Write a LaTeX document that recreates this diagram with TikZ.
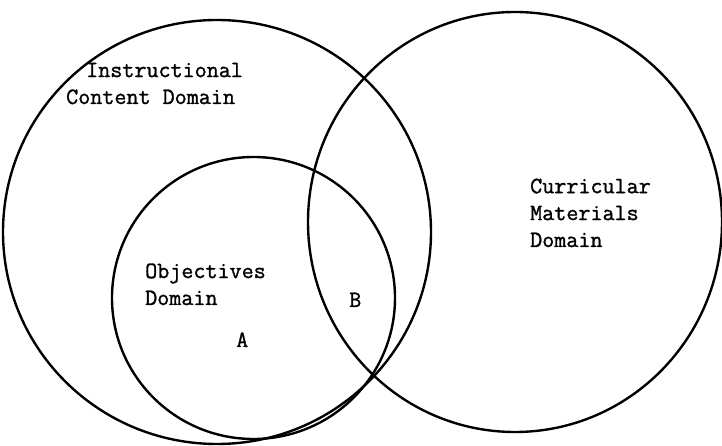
\documentclass[tikz,border=0pt]{standalone}
\usepackage{fontspec}
\newfontfamily\typewriter[FakeBold=1.2]{Latin Modern Mono}
\usepackage{tikz}

\tikzset{
  ring/.style={line width=2.4pt},
  lbl/.style={font=\typewriter\fontsize{23.5}{27}\selectfont, align=left, inner sep=0pt, anchor=base west}
}

\begin{document}
\begin{tikzpicture}[x=1bp,y=-1bp]
\useasboundingbox (0,0) rectangle (722,446);

% the three domains
\draw[ring] (217,232) ellipse [x radius=214, y radius=212];
\draw[ring] (515,222) ellipse [x radius=207, y radius=210];
\draw[ring] (253.5,298) ellipse [x radius=141.5, y radius=141];

% labels (base = last line)
\node[lbl] (content) at (66,104) {\hspace*{20bp}Instructional\\Content Domain};
\node[lbl] (materials) at (530,247) {Curricular\\Materials\\Domain};
\node[lbl] (objectives) at (145,305) {Objectives\\Domain};

\node[lbl] (B) at (349,307) {B};
\node[lbl] (A) at (236,347) {A};

\end{tikzpicture}
\end{document}
